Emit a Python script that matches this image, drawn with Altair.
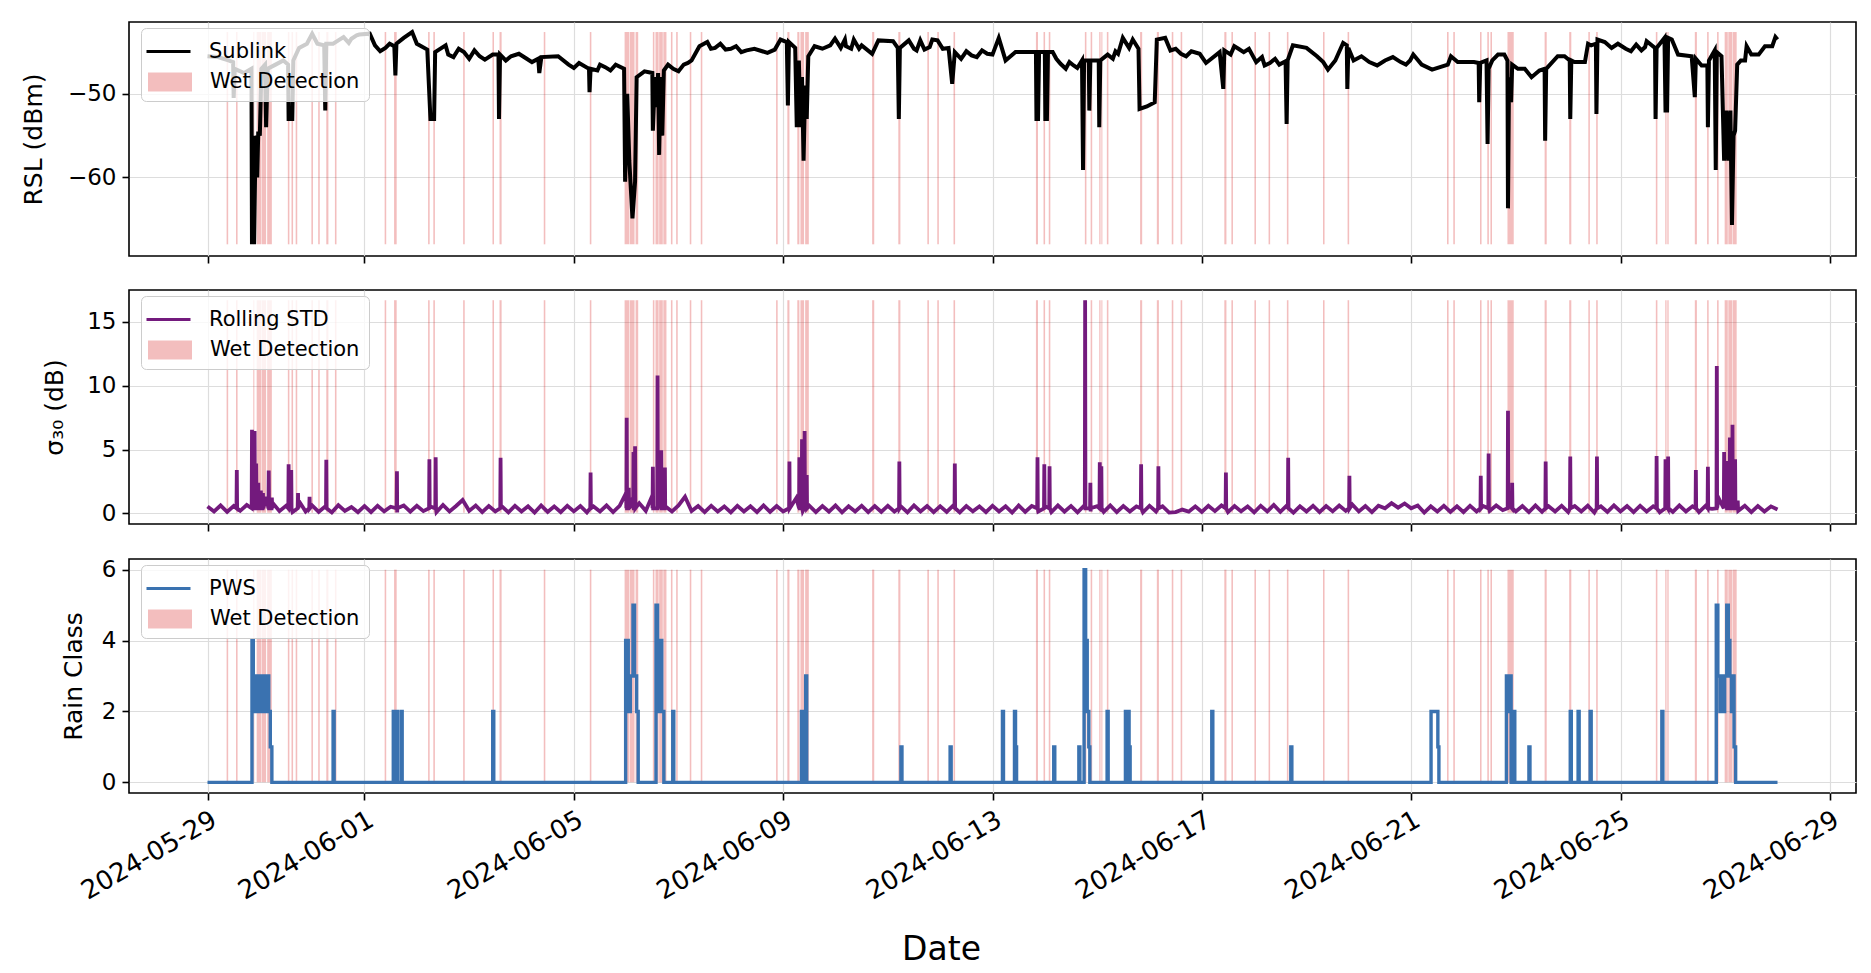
import numpy as np
import pandas as pd
import altair as alt

START = pd.Timestamp("2024-05-29")

# x ticks and plotted time range (matplotlib-style 5% margins)
TICK_DATES = ["2024-05-29", "2024-06-01", "2024-06-05", "2024-06-09", "2024-06-13",
              "2024-06-17", "2024-06-21", "2024-06-25", "2024-06-29"]
X_RANGE = ["2024-05-27 12:00", "2024-06-29 12:00"]

# Sublink RSL (dBm), (days after 2024-05-29, value)
RSL_POINTS = [
    (0.00, -45.5), (0.20, -45.6), (0.40, -46.0), (0.49, -46.2), (0.50, -50.5), (0.52, -47.0), (0.70, -47.5), (0.84, -47.0),
    (0.85, -68.0), (0.87, -63.5), (0.89, -68.0), (0.92, -55.0), (0.95, -60.0), (0.97, -54.5), (1.00, -55.0), (1.03, -47.0),
    (1.10, -46.5), (1.12, -54.0), (1.15, -47.0), (1.30, -46.5), (1.45, -46.0), (1.54, -46.5), (1.55, -53.0), (1.62, -53.0),
    (1.64, -46.0), (1.75, -44.5), (1.90, -44.0), (2.00, -42.8), (2.10, -44.0), (2.23, -44.2), (2.25, -52.0), (2.27, -44.0),
    (2.40, -44.0), (2.50, -43.6), (2.60, -43.2), (2.70, -43.9), (2.75, -43.4), (2.85, -43.0), (2.90, -42.9), (3.10, -42.8),
    (3.20, -44.2), (3.30, -44.9), (3.40, -44.5), (3.48, -44.0), (3.57, -44.3), (3.59, -47.8),
    (3.61, -44.0), (3.75, -43.3), (3.91, -42.6), (4.00, -44.0), (4.20, -44.7), (4.26, -53.0), (4.33, -53.0), (4.35, -45.0),
    (4.55, -44.2), (4.60, -45.3), (4.70, -45.6), (4.80, -44.6), (4.90, -45.0), (5.00, -45.8), (5.10, -44.8), (5.20, -45.5),
    (5.30, -45.9), (5.45, -45.3), (5.56, -45.3), (5.57, -53.0), (5.59, -45.3), (5.70, -46.0), (5.80, -45.5), (5.95, -45.2),
    (6.10, -45.8), (6.20, -46.2), (6.32, -45.8), (6.34, -47.5), (6.38, -45.6), (6.70, -45.5), (6.90, -46.5), (7.00, -46.9),
    (7.10, -46.3), (7.29, -47.0), (7.30, -49.8), (7.32, -47.0), (7.45, -47.2), (7.50, -46.5), (7.60, -46.8), (7.70, -47.2),
    (7.80, -46.5), (7.96, -47.0), (7.98, -60.5), (8.02, -50.0), (8.06, -58.0), (8.12, -64.9),
    (8.17, -60.5), (8.20, -48.0), (8.35, -47.3), (8.50, -47.5), (8.51, -54.4), (8.55, -48.0), (8.58, -51.6), (8.61, -47.5),
    (8.63, -57.3), (8.66, -48.0), (8.69, -55.0), (8.72, -47.2), (8.80, -46.5), (8.90, -47.0), (9.00, -47.3), (9.10, -46.5),
    (9.18, -46.3), (9.25, -46.0), (9.40, -44.3), (9.55, -43.8), (9.62, -44.6), (9.70, -44.5), (9.80, -44.0), (9.90, -44.7),
    (10.00, -44.6), (10.10, -44.3), (10.20, -45.0), (10.30, -44.8), (10.45, -44.6), (10.60, -44.9), (10.70, -45.1),
    (10.84, -44.7), (10.95, -43.5), (11.07, -43.8), (11.09, -51.4),
    (11.11, -43.8), (11.23, -44.5), (11.26, -54.0), (11.30, -46.0), (11.33, -54.0), (11.36, -48.0), (11.39, -58.0), (11.42, -49.0),
    (11.45, -53.0), (11.48, -45.5), (11.60, -44.3), (11.75, -44.6), (11.90, -44.2), (11.99, -43.4), (12.10, -44.5),
    (12.18, -43.5), (12.20, -44.3), (12.30, -44.6), (12.35, -43.5), (12.45, -44.6), (12.50, -44.2), (12.70, -45.2), (12.82, -43.6),
    (13.10, -43.7), (13.19, -44.5), (13.21, -53.0), (13.23, -44.5), (13.40, -43.6), (13.50, -44.6), (13.55, -44.8),
    (13.62, -43.6), (13.70, -44.7), (13.80, -44.4), (13.85, -43.5), (13.95, -43.6), (14.05, -44.6), (14.16, -44.5), (14.23, -48.8),
    (14.28, -45.0), (14.40, -45.8), (14.50, -44.9), (14.60, -45.4), (14.70, -45.6), (14.80, -44.8), (14.90, -45.2),
    (15.00, -45.3), (15.12, -43.3), (15.25, -46.0), (15.44, -45.0), (15.70, -45.0), (15.83, -45.0),
    (15.84, -53.0), (15.87, -53.0), (15.89, -45.0), (16.00, -45.0), (16.01, -53.0), (16.04, -53.0), (16.06, -45.0), (16.15, -45.0),
    (16.22, -45.8), (16.30, -46.4), (16.40, -47.0), (16.47, -46.2), (16.55, -46.6), (16.62, -46.9), (16.71, -46.0),
    (16.73, -59.1), (16.75, -46.0), (16.84, -46.0), (16.85, -52.0), (16.87, -46.0),
    (17.03, -46.0), (17.04, -54.0), (17.06, -46.0), (17.20, -45.3), (17.30, -45.8), (17.35, -44.9), (17.40, -45.2),
    (17.49, -43.3), (17.61, -44.5), (17.68, -43.5),
    (17.79, -44.6), (17.81, -51.8), (17.95, -51.5), (18.10, -51.0), (18.14, -43.5), (18.30, -43.3), (18.40, -44.8),
    (18.50, -44.6), (18.60, -45.2), (18.70, -45.5), (18.80, -44.9),
    (18.96, -45.2), (19.08, -46.3), (19.34, -45.0), (19.41, -49.4), (19.43, -44.8), (19.55, -45.3), (19.62, -44.3),
    (19.70, -44.6), (19.80, -45.0), (19.90, -44.6), (20.04, -46.2), (20.15, -45.6), (20.20, -46.6),
    (20.30, -46.3), (20.40, -45.8), (20.48, -46.5), (20.60, -46.1), (20.62, -53.6), (20.64, -46.0), (20.74, -44.2),
    (21.00, -44.5), (21.20, -45.5), (21.32, -46.2),
    (21.41, -47.1), (21.55, -46.0), (21.70, -43.9), (21.77, -44.2), (21.78, -49.4), (21.80, -44.5), (21.90, -46.0),
    (22.05, -45.5), (22.20, -46.2), (22.35, -46.6), (22.50, -46.0), (22.65, -45.6), (22.80, -46.2), (22.90, -46.5),
    (22.98, -46.0), (23.04, -45.3), (23.20, -46.5), (23.40, -47.1), (23.70, -46.5), (23.76, -45.5),
    (23.89, -46.2), (24.20, -46.2), (24.29, -46.3), (24.30, -51.0), (24.32, -46.3), (24.44, -46.0), (24.46, -56.0), (24.48, -47.0),
    (24.55, -46.0), (24.66, -45.3), (24.78, -45.3), (24.84, -46.0), (24.85, -63.7), (24.87, -48.0), (24.91, -51.0), (24.93, -46.5),
    (25.04, -47.0), (25.17, -47.0), (25.30, -48.0), (25.45, -47.2), (25.55, -47.0), (25.56, -55.6), (25.58, -47.0), (25.80, -45.5),
    (25.93, -45.5), (26.03, -46.0), (26.04, -53.0), (26.06, -46.0), (26.12, -46.2), (26.32, -46.2), (26.38, -44.0), (26.44, -44.2),
    (26.53, -44.0), (26.54, -52.4), (26.56, -43.5), (26.70, -43.8), (26.83, -44.5), (26.95, -44.0), (27.10, -44.6),
    (27.20, -44.9), (27.30, -44.1), (27.40, -44.8), (27.47, -44.4), (27.50, -43.7),
    (27.66, -44.5), (27.67, -53.0), (27.69, -44.5), (27.84, -43.3), (27.86, -52.0), (27.89, -52.0), (27.91, -43.3), (27.98, -43.5),
    (28.10, -45.3), (28.36, -45.5), (28.42, -50.4), (28.44, -45.8), (28.55, -46.6), (28.66, -46.6), (28.67, -54.0), (28.69, -46.0),
    (28.80, -44.8), (28.82, -59.1), (28.84, -45.0), (28.93, -45.5), (28.98, -58.0), (29.02, -52.0), (29.06, -58.0), (29.10, -52.0),
    (29.13, -65.7), (29.16, -55.0), (29.19, -54.4), (29.23, -46.5), (29.30, -46.0), (29.38, -46.0), (29.41, -44.3), (29.50, -45.3),
    (29.64, -45.3), (29.76, -44.3), (29.90, -44.3), (29.96, -43.2), (30.00, -43.5),
]

# rolling std (dB) background, one value every 3 h, one row per day
SIGMA_BASE = [
    0.55, 0.15, 0.62, 0.12, 0.58, 0.20, 0.66, 1.20,
    1.60, 1.30, 0.80, 0.18, 0.60, 0.10, 0.95, 0.15,
    0.62, 0.12, 0.55, 0.08, 0.64, 0.20, 0.50, 0.10,
    0.58, 0.10, 0.60, 0.16, 0.52, 0.08, 0.62, 0.14,
    0.60, 0.18, 0.55, 0.10, 0.66, 0.15, 0.58, 1.05,
    0.20, 0.62, 0.10, 0.58, 0.16, 0.55, 0.08, 0.60,
    0.15, 0.56, 0.06, 0.62, 0.12, 0.55, 0.10, 0.60,
    0.16, 0.58, 0.08, 0.55, 0.15, 0.62, 0.10, 0.60,
    1.60, 1.20, 0.80, 0.20, 1.40, 1.00, 0.55, 0.15,
    0.62, 1.30, 0.18, 0.58, 0.10, 0.60, 0.14, 0.55,
    0.08, 0.60, 0.15, 0.56, 0.10, 0.62, 0.12, 0.58,
    0.15, 0.55, 1.20, 0.18, 0.60, 0.10, 0.58, 0.14,
    0.62, 0.08, 0.56, 0.15, 0.60, 0.10, 0.58, 0.12,
    0.60, 0.14, 0.55, 0.08, 0.62, 0.15, 0.58, 0.10,
    0.56, 0.12, 0.62, 0.08, 0.58, 0.16, 0.55, 0.10,
    0.60, 0.15, 0.56, 0.06, 0.62, 0.12, 0.58, 0.15,
    0.55, 0.10, 0.62, 0.14, 0.58, 0.08, 0.60, 0.15,
    0.56, 0.12, 0.62, 0.10, 0.58, 0.15, 0.55, 0.08,
    0.60, 0.15, 0.56, 0.06, 0.10, 0.30, 0.14, 0.55,
    0.12, 0.60, 0.18, 0.62, 0.10, 0.58, 0.16, 0.55,
    0.08, 0.60, 0.15, 0.66, 0.12, 0.62, 0.06, 0.56,
    0.15, 0.60, 0.10, 0.58, 0.16, 0.62, 0.20, 0.70,
    0.15, 0.58, 0.10, 0.60, 0.40, 0.80, 0.45, 0.78,
    0.40, 0.62, 0.06, 0.55, 0.14, 0.60, 0.12, 0.56,
    0.10, 0.60, 0.15, 0.58, 0.20, 0.62, 0.25, 0.65,
    0.15, 0.58, 0.10, 0.62, 0.12, 0.56, 0.15, 0.60,
    0.10, 0.58, 0.15, 0.60, 0.06, 0.55, 0.12, 0.62,
    0.15, 0.58, 0.10, 0.60, 0.14, 0.56, 0.08, 0.60,
    0.12, 0.62, 0.15, 0.56, 0.10, 0.60, 0.35, 1.20,
    1.40, 1.00, 0.20, 0.60, 0.10, 0.58, 0.15, 0.55,
    0.30,
]
SPIKE_FOOT = 0.4
# rolling std peaks (day, dB)
SIGMA_SPIKES = [
    (0.56, 3.4), (0.85, 6.55), (0.90, 6.45), (0.93, 3.9), (0.97, 2.4), (1.02, 1.8), (1.06, 1.6), (1.17, 3.35),
    (1.23, 1.25), (1.55, 3.85), (1.60, 3.4), (1.73, 1.6), (1.95, 1.3), (2.27, 4.2), (3.62, 3.3), (4.24, 4.25),
    (4.36, 4.4), (5.60, 4.35), (7.32, 3.2), (8.01, 7.5), (8.05, 2.0), (8.14, 4.8), (8.17, 5.25), (8.51, 3.65),
    (8.60, 10.8), (8.67, 4.95), (8.74, 3.6), (11.12, 4.07), (11.31, 4.4), (11.36, 5.8), (11.41, 6.45), (11.45, 3.0),
    (13.22, 4.07), (14.28, 3.9), (15.86, 4.4), (15.99, 3.85), (16.09, 3.7), (16.77, 16.7), (16.87, 2.4), (17.05, 4.0),
    (17.08, 3.7), (17.84, 3.85), (18.17, 3.7), (19.46, 3.2), (20.65, 4.35), (21.82, 2.95), (24.33, 2.95), (24.48, 4.7),
    (24.85, 8.05), (24.93, 2.4), (25.57, 4.07), (26.04, 4.45), (26.55, 4.45), (27.69, 4.5), (27.86, 4.25), (27.91, 4.45),
    (28.44, 3.4), (28.67, 3.65), (28.84, 11.55), (28.98, 4.8), (29.03, 4.1), (29.09, 5.95), (29.14, 6.95), (29.19, 4.25),
    (29.24, 1.0),
]

# PWS rain class, value holds from this day until the next entry
PWS_STEPS = [
    (0.00, 0), (0.85, 4), (0.875, 3), (0.90, 2), (0.92, 3), (0.95, 2), (0.97, 3), (1.00, 2), (1.03, 3), (1.06, 2),
    (1.09, 3), (1.11, 2), (1.14, 3), (1.17, 2), (1.20, 1), (1.23, 0), (2.40, 2), (2.42, 0), (3.55, 2), (3.57, 0),
    (3.60, 2), (3.63, 0), (3.70, 2), (3.72, 0), (5.45, 2), (5.47, 0), (7.99, 4), (8.04, 2), (8.08, 3), (8.13, 5),
    (8.16, 3), (8.20, 2), (8.23, 0), (8.57, 5), (8.60, 2), (8.64, 4), (8.68, 2), (8.72, 0), (8.89, 2), (8.91, 0),
    (11.35, 2), (11.37, 0), (11.41, 2), (11.43, 3), (11.45, 0), (13.25, 1), (13.27, 0), (14.19, 1), (14.21, 0),
    (15.19, 2), (15.21, 0), (15.42, 2), (15.44, 1), (15.46, 0), (16.17, 1), (16.19, 0), (16.65, 1), (16.67, 0),
    (16.75, 6), (16.78, 4), (16.81, 2), (16.84, 1), (16.86, 0), (17.19, 2), (17.21, 0), (17.54, 2), (17.57, 0),
    (17.59, 2), (17.61, 1), (17.63, 0), (19.19, 2), (19.21, 0), (20.70, 1), (20.72, 0), (23.38, 2), (23.51, 1),
    (23.53, 0), (24.82, 3), (24.86, 2), (24.88, 3), (24.91, 0), (24.94, 2), (24.98, 0), (25.25, 1), (25.27, 0),
    (26.04, 2), (26.06, 0), (26.19, 2), (26.21, 0), (26.42, 2), (26.44, 0), (27.79, 2), (27.81, 0), (28.83, 5),
    (28.86, 3), (28.90, 2), (28.93, 3), (28.96, 2), (28.99, 3), (29.03, 5), (29.06, 4), (29.09, 3), (29.12, 2),
    (29.14, 3), (29.17, 1), (29.20, 0), (30.00, 0),
]

# wet detection periods (start day, end day)
WET_PERIODS = [
    (0.365, 0.395), (0.545, 0.575), (0.875, 0.895), (0.94, 1.03), (1.04, 1.12), (1.14, 1.23), (1.535, 1.565),
    (1.605, 1.635), (1.685, 1.715), (1.985, 2.015), (2.115, 2.145), (2.27, 2.31), (2.435, 2.465), (3.385, 3.415),
    (3.565, 3.615), (4.215, 4.245), (4.315, 4.345), (4.885, 4.915), (5.445, 5.475), (5.58, 5.62), (6.425, 6.455),
    (7.305, 7.335), (7.97, 8.06), (8.07, 8.16), (8.18, 8.23), (8.51, 8.54), (8.56, 8.62), (8.63, 8.70), (8.71, 8.77),
    (8.855, 8.885), (8.955, 8.985), (9.215, 9.245), (9.425, 9.455), (10.865, 10.895), (11.08, 11.12), (11.27, 11.31),
    (11.33, 11.40), (11.42, 11.49), (12.70, 12.74), (13.20, 13.24), (13.755, 13.785), (13.945, 13.975), (14.255, 14.285),
    (15.83, 15.87), (15.975, 16.005), (16.075, 16.105), (16.765, 16.795), (16.875, 16.905), (17.04, 17.065), (17.08, 17.10),
    (17.185, 17.215), (17.82, 17.86), (18.14, 18.18), (18.425, 18.455), (18.595, 18.625), (19.43, 19.47), (19.565, 19.595),
    (20.005, 20.035), (20.275, 20.305), (20.625, 20.655), (21.315, 21.345), (21.785, 21.815), (23.685, 23.715),
    (23.805, 23.835), (24.315, 24.345), (24.455, 24.485), (24.515, 24.545), (24.84, 24.96), (25.55, 25.59), (26.02, 26.06),
    (26.385, 26.415), (26.535, 26.565), (27.675, 27.705), (27.855, 27.88), (27.895, 27.92), (28.42, 28.46),
    (28.655, 28.685), (28.845, 28.875), (28.99, 29.05), (29.06, 29.14), (29.15, 29.22),
]

WET_COLOR = "#d62728"
PLOT_W, PLOT_H = 1727, 234


def at(days):
    return START + pd.to_timedelta(np.asarray(days, dtype=float), unit="D")


def as_dt(stamp):
    t = pd.Timestamp(stamp)
    return alt.DateTime(year=t.year, month=t.month, date=t.day, hours=t.hour)


def series_frame(points, name):
    days, vals = zip(*sorted(points))
    return pd.DataFrame({"time": at(days), "value": vals, "series": name})


def wet_frame(lo, hi):
    start, end = zip(*WET_PERIODS)
    return pd.DataFrame({"start": at(start), "end": at(end), "lo": lo, "hi": hi,
                         "label": "Wet Detection"})


x_scale = alt.Scale(domain=[as_dt(X_RANGE[0]), as_dt(X_RANGE[1])])
tick_values = [as_dt(d) for d in TICK_DATES]


def x_axis(bottom):
    if bottom:
        return alt.Axis(values=tick_values, format="%Y-%m-%d", labelAngle=330, labelAlign="right",
                        labelBaseline="top", labelFontSize=26, title="Date", titleFontSize=33,
                        titleX=812, titleY=156, titleAlign="center", titleBaseline="middle")
    return alt.Axis(values=tick_values, labels=False, title=None)


def panel(line_df, name, color, y_title, y_domain, y_ticks, title_pad, width,
          bottom=False, step=False):
    lo, hi = line_df["value"].min(), line_df["value"].max()
    y_scale = alt.Scale(domain=y_domain, nice=False, zero=False)
    y_axis = alt.Axis(values=y_ticks, title=y_title, titlePadding=title_pad)

    line_legend = alt.Legend(title=None, orient="none", legendX=21, legendY=18, padding=0,
                             symbolType="M-2.2,0H2.2", symbolSize=400, symbolStrokeWidth=3,
                             symbolOffset=7, labelOffset=29, zindex=2)
    wet_legend = alt.Legend(title=" ", orient="none", legendX=12, legendY=6, padding=9,
                            titleFontSize=21, titlePadding=13,
                            fillColor="rgba(255,255,255,0.8)", strokeColor="#cccccc", cornerRadius=5,
                            symbolType="M-2.2,-0.95H2.2V0.95H-2.2Z", symbolSize=400,
                            symbolOffset=9, labelOffset=29, zindex=1)

    spans = alt.Chart(wet_frame(lo, hi)).mark_rect(opacity=0.3).encode(
        x=alt.X("start:T", scale=x_scale, axis=x_axis(bottom)),
        x2="end:T",
        y=alt.Y("lo:Q", scale=y_scale, axis=y_axis),
        y2="hi:Q",
        fill=alt.Fill("label:N", scale=alt.Scale(domain=["Wet Detection"], range=[WET_COLOR]),
                      legend=wet_legend),
    )
    line = alt.Chart(line_df).mark_line(strokeWidth=width, interpolate="step-after" if step else "linear").encode(
        x=alt.X("time:T", scale=x_scale, axis=x_axis(bottom)),
        y=alt.Y("value:Q", scale=y_scale, axis=y_axis),
        stroke=alt.Stroke("series:N", scale=alt.Scale(domain=[name], range=[color]), legend=line_legend),
    )
    return alt.layer(spans, line).properties(width=PLOT_W, height=PLOT_H)


rsl_df = series_frame(RSL_POINTS, "Sublink")

sigma_pts = list(zip(np.arange(len(SIGMA_BASE)) * 0.125, SIGMA_BASE))  # 3-hourly samples
for d, v in SIGMA_SPIKES:
    sigma_pts += [(d - 0.006, SPIKE_FOOT), (d, v), (d + 0.006, SPIKE_FOOT)]
sigma_df = series_frame(sigma_pts, "Rolling STD")

pws_df = series_frame(PWS_STEPS, "PWS")

top = panel(rsl_df, "Sublink", "black", "RSL (dBm)", [-69.4, -41.4], [-60, -50], 21, 4)
mid = panel(sigma_df, "Rolling STD", "#731a7d", "σ₃₀ (dB)", [-0.83, 17.5], [0, 5, 10, 15], 19, 3.8)
bot = panel(pws_df, "PWS", "#3a72b0", "Rain Class", [-0.3, 6.3], [0, 2, 4, 6], 15, 3.4,
            bottom=True, step=True)

chart = alt.vconcat(top, mid, bot, spacing=24).resolve_scale(
    y="independent", stroke="independent", fill="independent"
).resolve_legend(
    stroke="independent", fill="independent"
).properties(
    padding={"left": 12, "top": 13, "right": 5, "bottom": 5}, background="white"
).configure(
    font="DejaVu Sans"
).configure_view(
    stroke="black", strokeWidth=1.6
).configure_axis(
    labelFont="DejaVu Sans", titleFont="DejaVu Sans", labelColor="black", titleColor="black",
    labelFontSize=23, titleFontSize=25, titleFontWeight="normal", domain=False,
    tickColor="black", tickSize=7, tickWidth=1.6, labelPadding=6,
    grid=True, gridColor="#dddddd", gridWidth=1.2,
).configure_legend(
    labelFont="DejaVu Sans", titleFont="DejaVu Sans", labelColor="black", labelFontSize=21,
)

chart.save("out.html", embed_options={"renderer": "svg", "actions": False})
